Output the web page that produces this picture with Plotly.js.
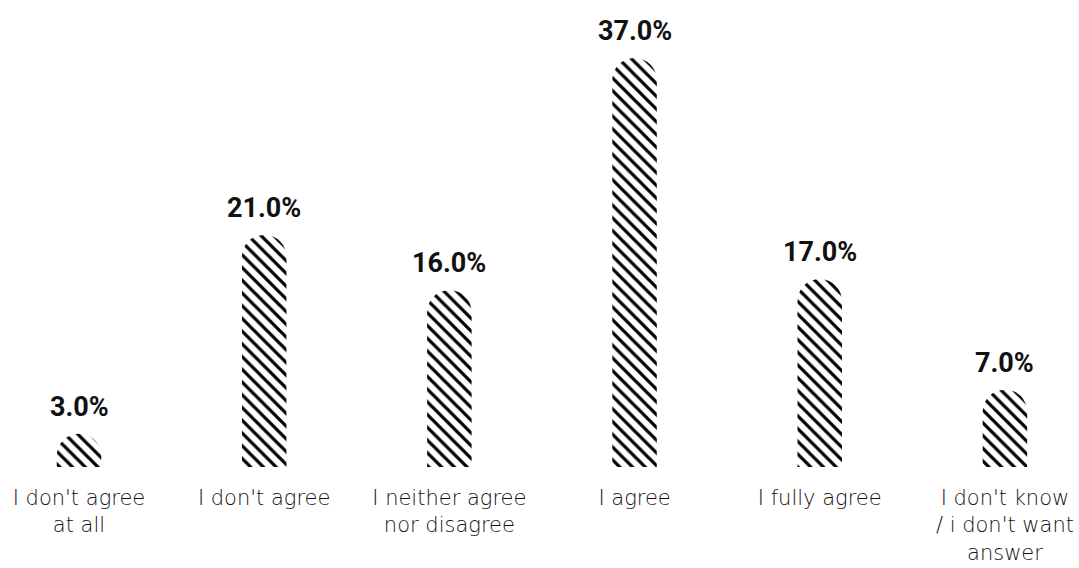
<!DOCTYPE html>
<html>
<head>
<meta charset="utf-8">
<script src="https://cdn.plot.ly/plotly-3.0.1.min.js"></script>
<style>html,body{margin:0;padding:0;background:#fff;}#chart{width:1079px;height:568px;}</style>
</head>
<body>
<div id="chart"></div>
<script>
const categories = ["I don't agree<br>at all", "I don't agree", "I neither agree<br>nor disagree", "I agree", "I fully agree", "I don't know<br>/ i don't want<br>answer"];
const values = [3.0, 21.0, 16.0, 37.0, 17.0, 7.0];
const valueLabels = values.map(v => v.toFixed(1) + '%');
const positions = categories.map((c, i) => i);

const trace = {
  type: 'bar',
  x: positions,
  y: values,
  width: 0.24,
  marker: {
    color: '#ffffff',
    cornerradius: '50%',
    line: {width: 0},
    pattern: {shape: '\\', fgcolor: '#000000', bgcolor: '#ffffff', size: 9, solidity: 0.36}
  },
  hoverinfo: 'none'
};

const annotations = values.map((v, i) => ({
  x: positions[i], y: v, xref: 'x', yref: 'y',
  text: valueLabels[i], showarrow: false,
  yanchor: 'bottom', yshift: 9,
  font: {family: 'Roboto, Inter, sans-serif', size: 27, color: '#111', weight: 'bold'}
}));

const layout = {
  width: 1079, height: 568,
  margin: {l: 0, r: 0, t: 0, b: 101},
  paper_bgcolor: '#fff', plot_bgcolor: '#fff',
  showlegend: false,
  annotations: annotations,
  xaxis: {
    range: [-0.4266, 5.40],
    tickmode: 'array',
    tickvals: positions,
    ticktext: categories,
    showgrid: false, zeroline: false, showline: false, ticks: '',
    ticklabelstandoff: 16,
    tickfont: {family: '"DejaVu Sans", sans-serif', size: 21, color: '#111', weight: 200}
  },
  yaxis: {
    range: [0, 42.25],
    visible: false, showgrid: false, zeroline: false
  }
};

Plotly.newPlot('chart', [trace], layout, {displayModeBar: false, staticPlot: true});
</script>
</body>
</html>
